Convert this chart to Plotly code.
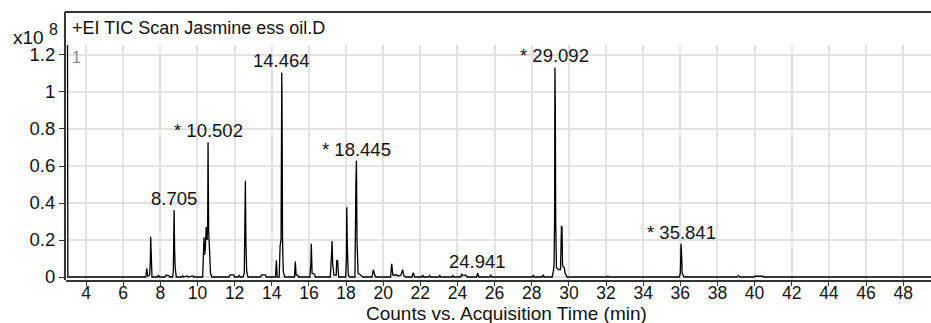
import plotly.graph_objects as go

# Chromatogram points: retention time (min) and TIC counts (x1e8)
time_min = [
    3.00, 3.02, 7.20,
    7.22, 7.27, 7.32, 7.42, 7.46, 7.48, 7.51, 7.55,
    7.85, 7.90, 7.95, 8.25, 8.30, 8.45, 8.50,
    8.66, 8.70, 8.74, 8.77, 8.80, 8.86,
    9.15, 9.20, 9.25, 9.45, 9.50, 9.75, 9.80,
    10.28, 10.32, 10.35, 10.38, 10.42, 10.47, 10.52, 10.55, 10.57, 10.60, 10.63, 10.67, 10.70, 10.78,
    11.70, 11.75, 11.95, 12.00, 12.20, 12.25, 12.30,
    12.45, 12.52, 12.58, 12.61, 12.65, 12.72,
    13.40, 13.45, 13.65, 13.70,
    14.20, 14.25, 14.29,
    14.40, 14.45, 14.50, 14.53, 14.54, 14.56, 14.58, 14.62, 14.70,
    15.22, 15.27, 15.31, 15.40, 15.45,
    16.05, 16.11, 16.13, 16.17, 16.30, 16.35,
    17.15, 17.20, 17.23, 17.25, 17.28, 17.35, 17.47, 17.50, 17.55, 17.60,
    17.98, 18.02, 18.04, 18.07, 18.12, 18.20,
    18.48, 18.53, 18.56, 18.59, 18.65, 18.80, 18.90,
    19.40, 19.47, 19.55, 19.60,
    20.40, 20.46, 20.52, 20.70, 20.80, 20.95, 21.05, 21.10, 21.20,
    21.55, 21.62, 21.70,
    22.08, 22.13, 22.18, 22.45, 22.50, 22.55, 23.00, 23.05, 23.10,
    23.70, 23.75, 23.80, 24.18, 24.23, 24.30, 24.45, 24.52,
    25.03, 25.09, 25.15, 25.74, 25.79, 25.84,
    28.04, 28.09, 28.14, 28.57, 28.62, 28.67,
    29.10, 29.16, 29.20, 29.23, 29.25, 29.27, 29.29, 29.33, 29.45,
    29.55, 29.60, 29.63, 29.66, 29.75, 29.80, 29.90,
    32.05, 32.10, 32.15,
    35.95, 36.00, 36.04, 36.07, 36.10, 36.20,
    39.05, 39.13, 39.20,
    39.98, 40.00, 40.45, 40.47,
    49.60,
]
tic_x1e8 = [
    1.30, 0.0, 0.0,
    0.0, 0.047, 0.005, 0.010, 0.080, 0.218, 0.060, 0.0,
    0.0, 0.010, 0.0, 0.0, 0.010, 0.008, 0.0,
    0.0, 0.030, 0.362, 0.140, 0.050, 0.0,
    0.0, 0.006, 0.0, 0.006, 0.0, 0.006, 0.0,
    0.0, 0.100, 0.215, 0.120, 0.150, 0.270, 0.200, 0.300, 0.728, 0.250, 0.120, 0.100, 0.020, 0.0,
    0.0, 0.012, 0.012, 0.0, 0.0, 0.010, 0.0,
    0.0, 0.020, 0.520, 0.180, 0.030, 0.0,
    0.0, 0.012, 0.012, 0.0,
    0.0, 0.090, 0.0,
    0.0, 0.170, 0.200, 0.800, 1.106, 0.800, 0.200, 0.030, 0.0,
    0.0, 0.083, 0.010, 0.010, 0.0,
    0.0, 0.080, 0.180, 0.020, 0.015, 0.0,
    0.0, 0.060, 0.140, 0.195, 0.070, 0.010, 0.010, 0.092, 0.085, 0.0,
    0.0, 0.100, 0.377, 0.170, 0.010, 0.0,
    0.0, 0.500, 0.629, 0.200, 0.020, 0.010, 0.0,
    0.0, 0.040, 0.010, 0.0,
    0.0, 0.072, 0.010, 0.012, 0.005, 0.010, 0.040, 0.010, 0.0,
    0.0, 0.023, 0.0,
    0.0, 0.010, 0.0, 0.0, 0.008, 0.0, 0.0, 0.008, 0.0,
    0.0, 0.008, 0.0, 0.0, 0.015, 0.008, 0.010, 0.0,
    0.0, 0.020, 0.0, 0.0, 0.012, 0.0,
    0.0, 0.010, 0.0, 0.0, 0.012, 0.0,
    0.0, 0.030, 0.060, 0.300, 1.133, 0.920, 0.300, 0.050, 0.040,
    0.040, 0.276, 0.270, 0.060, 0.050, 0.020, 0.0,
    0.0, 0.005, 0.0,
    0.0, 0.020, 0.180, 0.120, 0.020, 0.0,
    0.0, 0.007, 0.0,
    0.0, 0.004, 0.004, 0.0,
    0.0,
]

# Peak labels and the retention time of the peak each one sits above
peak_labels = ["8.705", "* 10.502", "14.464", "* 18.445", "24.941", "* 29.092", "* 35.841"]
peak_label_times = [8.74, 10.57, 14.54, 18.56, 25.09, 29.25, 36.04]

x_ticks = list(range(4, 50, 2))
y_ticks = [0, 0.2, 0.4, 0.6, 0.8, 1.0, 1.2]
y_tick_text = ["0", "0.2", "0.4", "0.6", "0.8", "1", "1.2"]

FONT = "Liberation Sans, Arial, Helvetica, sans-serif"

fig = go.Figure()
fig.add_trace(go.Scatter(
    x=time_min, y=tic_x1e8, mode="lines",
    line=dict(color="#000000", width=1.3),
    hoverinfo="skip", showlegend=False,
))

annotations = []
for label, t in zip(peak_labels, peak_label_times):
    h = max(v for tt, v in zip(time_min, tic_x1e8) if abs(tt - t) <= 0.1)
    annotations.append(dict(
        x=t, y=h, xref="x", yref="y", text=label, showarrow=False,
        xanchor="center", yanchor="bottom", yshift=-1,
        font=dict(family=FONT, size=18.5, color="#111111"),
    ))

annotations += [
    dict(x=0.0046, y=1.073, xref="paper", yref="paper", text="+EI TIC Scan Jasmine ess oil.D",
         showarrow=False, xanchor="left", yanchor="middle",
         font=dict(family=FONT, size=18, color="#111111")),
    dict(x=-0.0428, y=1.032, xref="paper", yref="paper", text="x10", showarrow=False,
         xanchor="center", yanchor="middle", font=dict(family=FONT, size=19, color="#111111")),
    dict(x=-0.0145, y=1.064, xref="paper", yref="paper", text="8", showarrow=False,
         xanchor="center", yanchor="middle", font=dict(family=FONT, size=16, color="#111111")),
    dict(x=0.0121, y=0.945, xref="paper", yref="paper", text="1", showarrow=False,
         xanchor="center", yanchor="middle", font=dict(family=FONT, size=16, color="#888888")),
    dict(x=0.5098, y=-0.143, xref="paper", yref="paper", text="Counts vs. Acquisition Time (min)",
         showarrow=False, xanchor="center", yanchor="middle",
         font=dict(family=FONT, size=19, color="#111111")),
]

fig.update_layout(
    width=931, height=323,
    margin=dict(l=66, r=0, t=45, b=43),
    paper_bgcolor="white", plot_bgcolor="white",
    font=dict(family=FONT, color="#111111"),
    annotations=annotations,
    shapes=[
        dict(type="line", xref="paper", yref="paper", x0=-0.0012, x1=1.02, y0=1.1404, y1=1.1404,
             line=dict(color="#333333", width=2)),
        dict(type="line", xref="paper", yref="paper", x0=-0.0012, x1=-0.0012, y0=0, y1=1.1404,
             line=dict(color="#333333", width=2)),
    ],
)
fig.update_xaxes(
    range=[2.92, 49.5], tickvals=x_ticks, ticktext=[str(v) for v in x_ticks],
    showgrid=True, gridcolor="#e2e2e2", gridwidth=1.5,
    showline=True, linecolor="#333333", linewidth=2,
    ticks="outside", ticklen=4, tickcolor="#333333", tickwidth=1,
    tickfont=dict(family=FONT, size=17.5, color="#111111"),
    ticklabelstandoff=-8,
    zeroline=False,
)
fig.update_yaxes(
    range=[-0.0162, 1.254], tickvals=y_ticks, ticktext=y_tick_text,
    showgrid=True, gridcolor="#e2e2e2", gridwidth=1.5,
    showline=False,
    ticks="outside", ticklen=6, tickcolor="#333333", tickwidth=1,
    tickfont=dict(family=FONT, size=18.5, color="#111111"),
    zeroline=False,
)

fig.write_html("out.html")
